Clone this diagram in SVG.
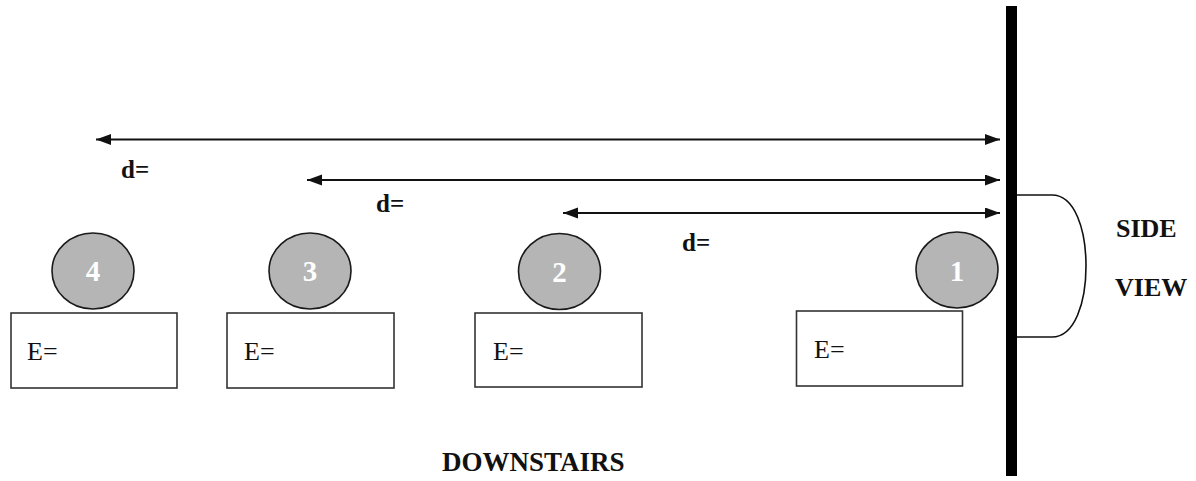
<svg xmlns="http://www.w3.org/2000/svg" width="1196" height="481" viewBox="0 0 1196 481">
<style>
.bx{fill:#fff;stroke:#333;stroke-width:1.6}
.ball{fill:#b5b5b5;stroke:#1a1a1a;stroke-width:1.6}
.num{font-family:"Liberation Serif","Times New Roman",serif;font-weight:bold;font-size:29px;fill:#fff;text-anchor:middle}
.e{font-family:"Liberation Serif","Times New Roman",serif;font-size:26px;fill:#111}
.lb{font-family:"Liberation Serif","Times New Roman",serif;font-weight:bold;font-size:26px;fill:#111}
.d{font-family:"Liberation Serif","Times New Roman",serif;font-weight:bold;font-size:25px;fill:#111}
.ar{stroke:#111;stroke-width:2;fill:none;marker-start:url(#ah);marker-end:url(#ah)}
</style>
<defs>
<marker id="ah" markerUnits="userSpaceOnUse" markerWidth="16" markerHeight="12" refX="15" refY="5.5" orient="auto-start-reverse">
<path d="M0,0 L15,5.5 L0,11 z" fill="#111"/>
</marker>
</defs>
<rect width="1196" height="481" fill="#fff"/>
<g id="wall">
<rect x="1006" y="6" width="11" height="470" fill="#000"/>
<path d="M1017,195 L1052,195 C1075,195 1086,230 1086,266 C1086,302 1075,337 1052,337 L1017,337" fill="none" stroke="#111" stroke-width="1.6"/>
</g>
<g id="connectors">
<line class="ar" x1="96" y1="139.5" x2="1000" y2="139.5"/>
<line class="ar" x1="307" y1="180" x2="1000" y2="180"/>
<line class="ar" x1="563" y1="213" x2="1000" y2="213"/>
</g>
<g id="labels">
<text class="d" x="121" y="178">d=</text>
<text class="d" x="376" y="212">d=</text>
<text class="d" x="682" y="251">d=</text>
<text class="lb" x="1116" y="237">SIDE</text>
<text class="lb" x="1115" y="296">VIEW</text>
<text class="lb" x="442" y="471" style="font-size:27px">DOWNSTAIRS</text>
</g>
<g id="node4">
<rect class="bx" x="11" y="313" width="166" height="75"/>
<text class="e" x="27" y="360">E=</text>
<ellipse class="ball" cx="93" cy="271" rx="41" ry="38"/>
<text class="num" x="93" y="281">4</text>
</g>
<g id="node3">
<rect class="bx" x="227" y="313" width="167" height="75"/>
<text class="e" x="244" y="360">E=</text>
<ellipse class="ball" cx="310" cy="271" rx="41" ry="38"/>
<text class="num" x="310" y="281">3</text>
</g>
<g id="node2">
<rect class="bx" x="475" y="313" width="167" height="74"/>
<text class="e" x="493" y="360">E=</text>
<ellipse class="ball" cx="559.5" cy="271.5" rx="41" ry="38"/>
<text class="num" x="559.5" y="282">2</text>
</g>
<g id="node1">
<rect class="bx" x="796.5" y="311" width="166" height="75"/>
<text class="e" x="814" y="358">E=</text>
<ellipse class="ball" cx="957" cy="270" rx="41" ry="38"/>
<text class="num" x="957" y="281">1</text>
</g>
</svg>
